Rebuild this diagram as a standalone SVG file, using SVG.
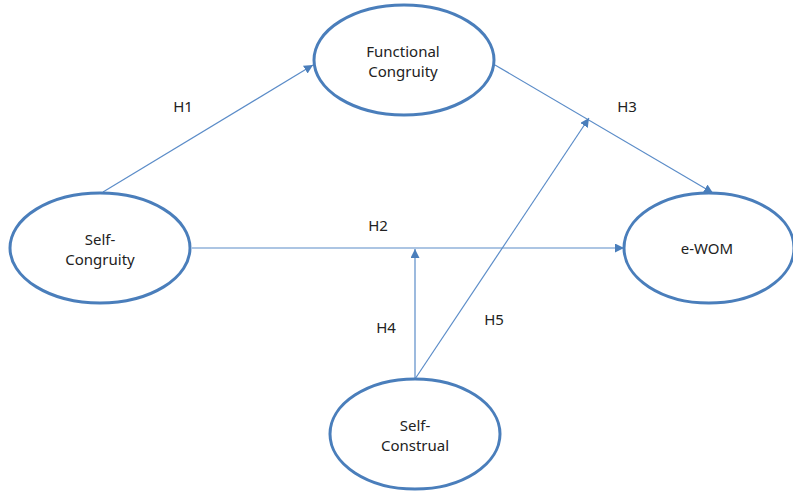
<svg xmlns="http://www.w3.org/2000/svg" width="793" height="491" viewBox="0 0 793 491">
<style>
.node ellipse{fill:#fff;stroke:#4a7ebb;stroke-width:3}
.t{font-family:"Noto Sans","Open Sans","Liberation Sans",sans-serif;font-size:15px;fill:#222;text-anchor:middle}
.e{stroke:#5b8cc8;stroke-width:1.2;fill:none;marker-end:url(#a)}
</style>
<defs>
<marker id="a" viewBox="0 0 10 10" refX="10" refY="5" markerWidth="9" markerHeight="9" markerUnits="userSpaceOnUse" orient="auto">
<path d="M0,0 L10,5 L0,10 z" fill="#4a7ebb"/>
</marker>
</defs>
<rect width="793" height="491" fill="#fff"/>
<g id="connectors">
<line class="e" x1="103" y1="192" x2="313" y2="65"/>
<line class="e" x1="192" y1="248" x2="624" y2="248"/>
<line class="e" x1="495" y1="65" x2="713" y2="193"/>
<line class="e" x1="415" y1="379" x2="415" y2="249"/>
<line class="e" x1="415" y1="379" x2="589" y2="118"/>
<text class="t" x="183" y="112">H1</text>
<text class="t" x="378" y="231">H2</text>
<text class="t" x="627" y="112">H3</text>
<text class="t" x="386" y="333">H4</text>
<text class="t" x="494" y="325">H5</text>
</g>
<g id="functional" class="node">
<ellipse cx="404" cy="60" rx="90" ry="55"/>
<text class="t" x="403" y="57">Functional</text>
<text class="t" x="403" y="77">Congruity</text>
</g>
<g id="selfcongruity" class="node">
<ellipse cx="100" cy="248" rx="90" ry="55"/>
<text class="t" x="100" y="245">Self-</text>
<text class="t" x="100" y="265">Congruity</text>
</g>
<g id="ewom" class="node">
<ellipse cx="709" cy="248" rx="85" ry="55"/>
<text class="t" x="707" y="254">e-WOM</text>
</g>
<g id="selfconstrual" class="node">
<ellipse cx="415" cy="434" rx="85" ry="55"/>
<text class="t" x="415" y="431">Self-</text>
<text class="t" x="415" y="451">Construal</text>
</g>
</svg>
